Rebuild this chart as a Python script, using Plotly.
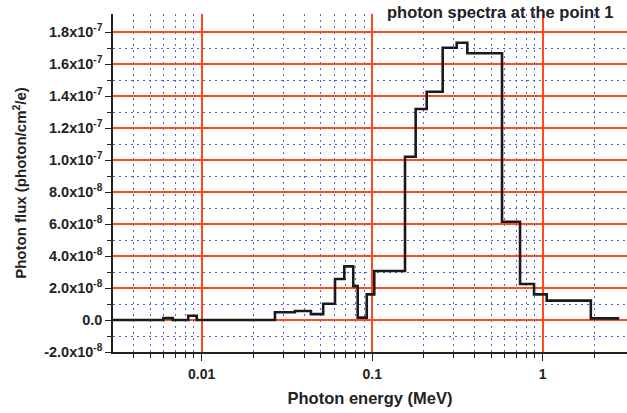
import plotly.graph_objects as go

# Bin edges (MeV) and flux values per bin (photon/cm^2/e)
energy_edges = [0.00302, 0.00596, 0.00676, 0.00834, 0.00935, 0.0269, 0.0352, 0.0437,
                0.0516, 0.0605, 0.0686, 0.0774, 0.0822, 0.0929, 0.1028, 0.1557, 0.1798,
                0.2087, 0.259, 0.313, 0.361, 0.577, 0.736, 0.889, 1.055, 1.914, 2.81]
flux_e8 = [0, 0.12, 0, 0.27, 0, 0.48, 0.56, 0.37, 1.02, 2.56, 3.35, 2.12, 0.15, 1.6,
           3.06, 10.2, 13.19, 14.27, 17.02, 17.33, 16.67, 6.14, 2.25, 1.6, 1.21, 0.1]
flux = [v * 1e-8 for v in flux_e8]

y_tick_vals = [-2e-8, 0, 2e-8, 4e-8, 6e-8, 8e-8, 1e-7, 1.2e-7, 1.4e-7, 1.6e-7, 1.8e-7]
y_tick_text = ["-2.0x10<sup>-8</sup>", "0.0", "2.0x10<sup>-8</sup>", "4.0x10<sup>-8</sup>",
               "6.0x10<sup>-8</sup>", "8.0x10<sup>-8</sup>", "1.0x10<sup>-7</sup>",
               "1.2x10<sup>-7</sup>", "1.4x10<sup>-7</sup>", "1.6x10<sup>-7</sup>",
               "1.8x10<sup>-7</sup>"]
y_minor_vals = [-1e-8, 1e-8, 3e-8, 5e-8, 7e-8, 9e-8, 1.1e-7, 1.3e-7, 1.5e-7, 1.7e-7]
x_tick_vals = [0.01, 0.1, 1]
x_tick_text = ["0.01", "0.1", "1"]
x_minor_vals = [0.004, 0.005, 0.006, 0.007, 0.008, 0.009,
                0.02, 0.03, 0.04, 0.05, 0.06, 0.07, 0.08, 0.09,
                0.2, 0.3, 0.4, 0.5, 0.6, 0.7, 0.8, 0.9, 2]

RED = "#ff4a1c"
BLUE = "#5a5ac8"
FONT = "Liberation Sans, Arial, sans-serif"

fig = go.Figure()
fig.add_trace(go.Scatter(
    x=energy_edges, y=flux + [flux[-1]], mode="lines", line_shape="hv",
    line=dict(color="#1a1a1a", width=2.6), showlegend=False, hoverinfo="skip"))

fig.update_layout(
    width=627, height=413,
    margin=dict(l=113, r=0, t=14, b=61),
    paper_bgcolor="white", plot_bgcolor="white",
    font=dict(family=FONT, color="#222222", size=14, weight="bold"),
    annotations=[dict(text="photon spectra at the point 1", xref="paper", yref="paper",
                      x=0.753, y=1.006, xanchor="center", yanchor="middle", showarrow=False,
                      font=dict(family=FONT, size=16.5, color="#222222", weight="bold"))],
)
fig.update_xaxes(
    type="log", range=[-2.52, 0.494],
    tickmode="array", tickvals=x_tick_vals, ticktext=x_tick_text,
    ticks="outside", ticklen=7, tickwidth=1.2, tickcolor="#222222",
    ticklabelstandoff=1,
    showline=True, linecolor="#222222", linewidth=1.5,
    showgrid=True, gridcolor=RED, gridwidth=1.5,
    zeroline=False,
    tickfont=dict(size=14, weight="bold"),
    title=dict(text="Photon energy (MeV)", font=dict(size=16.5, weight="bold"), standoff=12),
    minor=dict(tickmode="array", tickvals=x_minor_vals, ticks="outside", ticklen=4,
               tickcolor="#222222", showgrid=True, gridcolor=BLUE, gridwidth=1,
               griddash="2px,4px"),
)
fig.update_yaxes(
    range=[-2e-8, 1.9125e-7],
    tickmode="array", tickvals=y_tick_vals, ticktext=y_tick_text,
    ticks="outside", ticklen=6, tickwidth=1.2, tickcolor="#222222",
    showline=True, linecolor="#222222", linewidth=1.5,
    showgrid=True, gridcolor=RED, gridwidth=1.5,
    zeroline=False,
    tickfont=dict(size=14.5, weight="bold"),
    title=dict(text="Photon flux (photon/cm<sup>2</sup>/e)", font=dict(size=15, weight="bold"), standoff=14),
    minor=dict(tickmode="array", tickvals=y_minor_vals, ticks="outside", ticklen=4,
               tickcolor="#222222", showgrid=True, gridcolor=BLUE, gridwidth=1,
               griddash="2px,4px"),
)

fig.write_html("out.html")
